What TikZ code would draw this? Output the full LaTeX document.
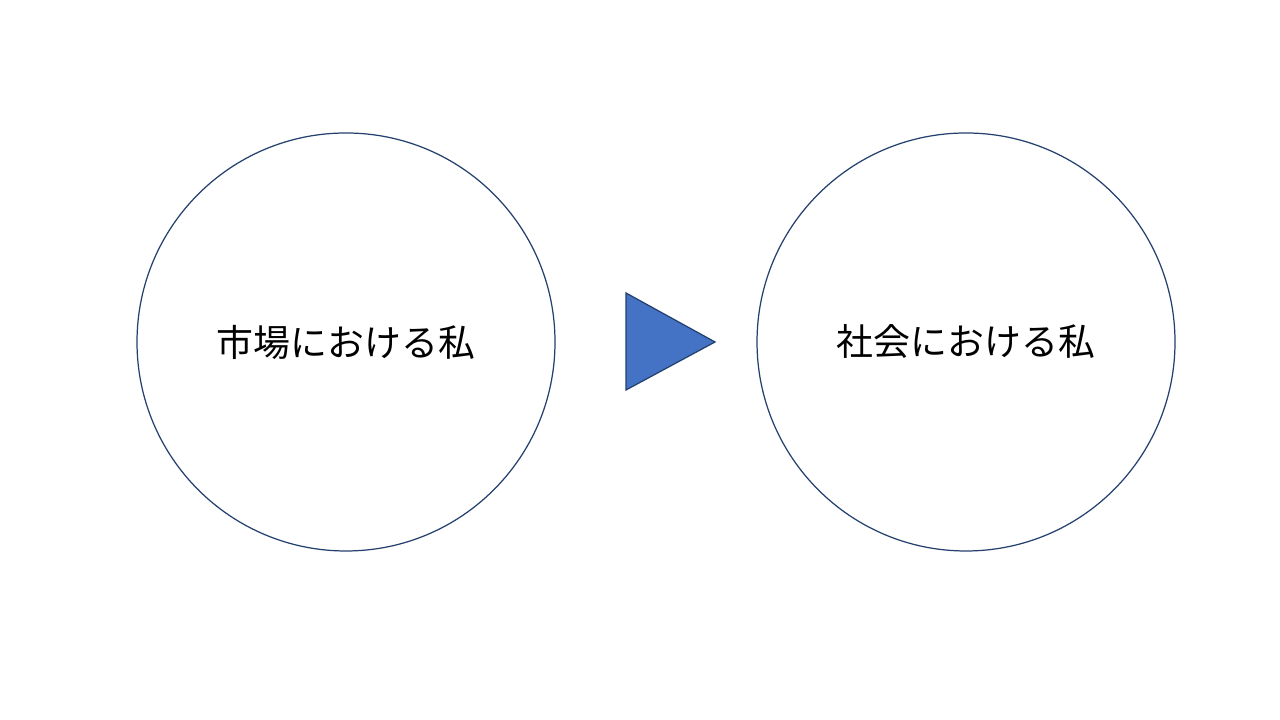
\documentclass[tikz,border=0pt]{standalone}
\usepackage{fontspec}
\setmainfont{Noto Sans CJK JP}
\usetikzlibrary{positioning, calc}

\definecolor{ringline}{HTML}{23406E}
\definecolor{arrowfill}{HTML}{4472C4}

\tikzset{
    ring/.style={circle, draw=ringline, line width=0.35pt, minimum size=4.18cm, inner sep=0pt,
                 font=\fontsize{10.5pt}{12pt}\selectfont}
}

\begin{document}
\begin{tikzpicture}
                \useasboundingbox[fill=white] (0,0) rectangle (12.8,7.2);

                \node[ring] (market) at (3.46,3.78) {市場における私};
                \node[ring] (society) at (9.66,3.78) {社会における私};

                \draw[fill=arrowfill, draw=ringline, line width=0.35pt]
                    (6.26,4.27) -- (7.15,3.78) -- (6.26,3.30) -- cycle;
            \end{tikzpicture}
\end{document}
